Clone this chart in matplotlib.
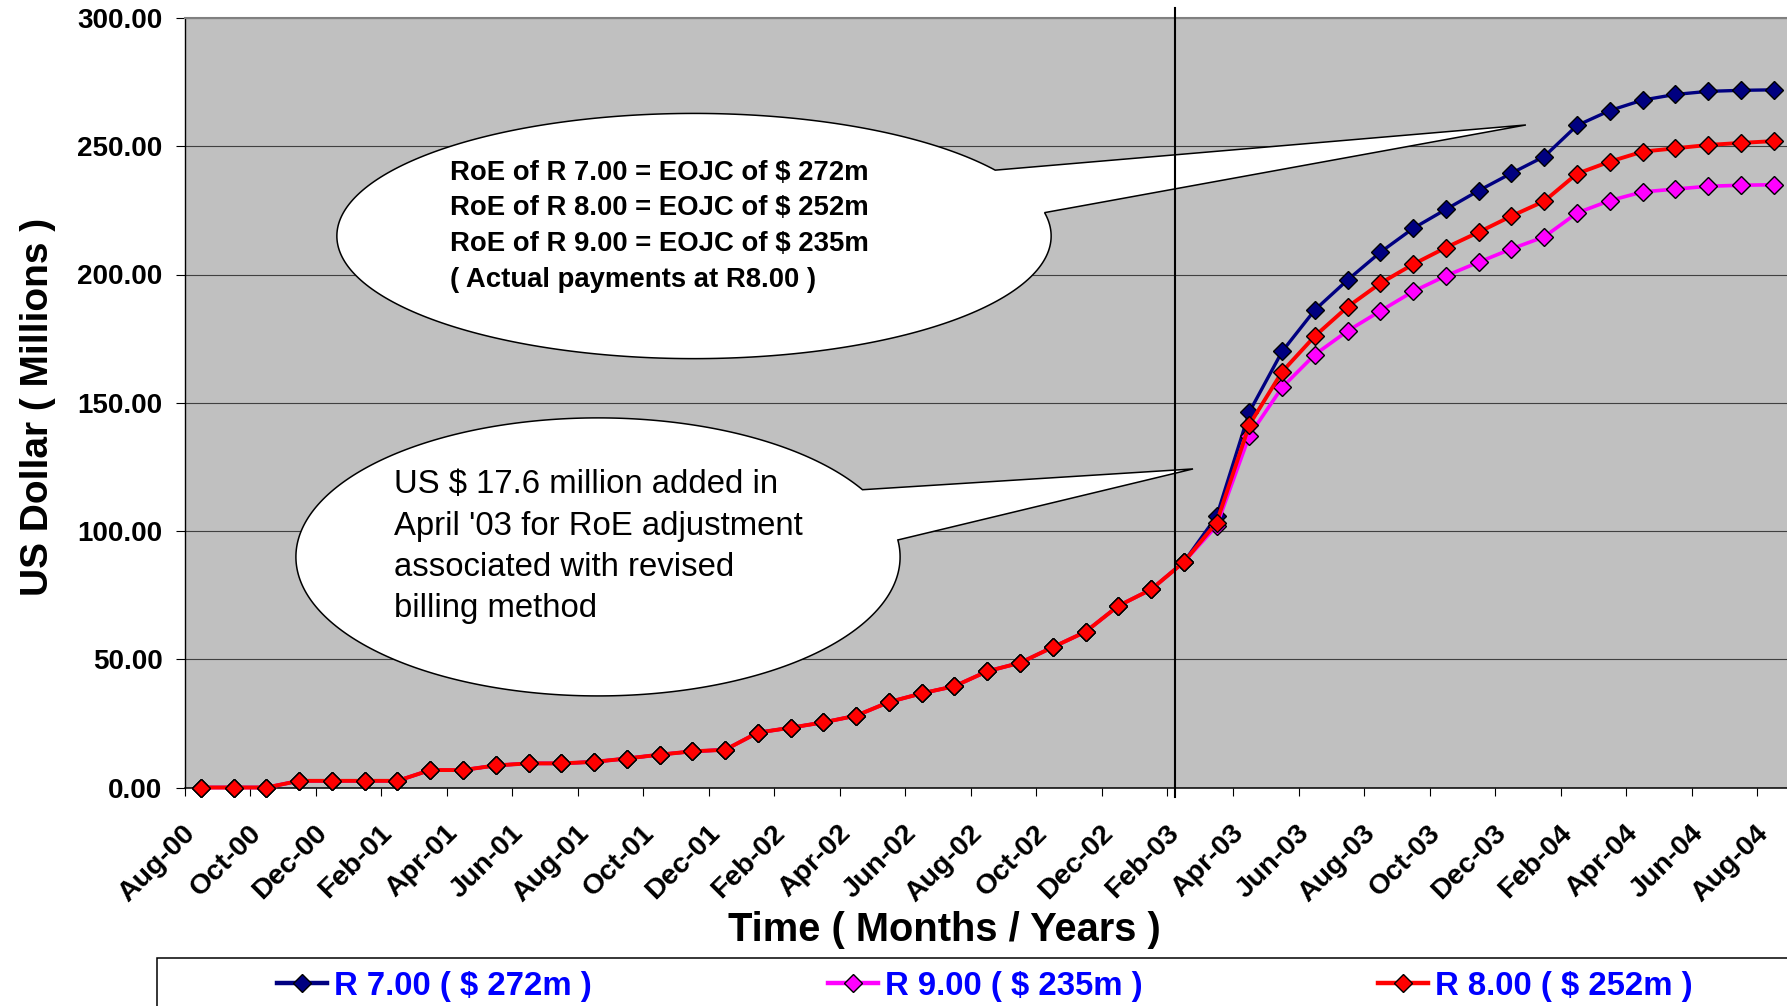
import numpy as np
import matplotlib
matplotlib.use("Agg")
import matplotlib.pyplot as plt
from matplotlib.patches import Polygon, Rectangle

plt.rcParams['font.family'] = ['Liberation Sans', 'DejaVu Sans']

# ---- data -------------------------------------------------------------
months = ["Aug-00", "Sep-00", "Oct-00", "Nov-00", "Dec-00",
          "Jan-01", "Feb-01", "Mar-01", "Apr-01", "May-01", "Jun-01",
          "Jul-01", "Aug-01", "Sep-01", "Oct-01", "Nov-01", "Dec-01",
          "Jan-02", "Feb-02", "Mar-02", "Apr-02", "May-02", "Jun-02",
          "Jul-02", "Aug-02", "Sep-02", "Oct-02", "Nov-02", "Dec-02",
          "Jan-03", "Feb-03", "Mar-03", "Apr-03", "May-03", "Jun-03",
          "Jul-03", "Aug-03", "Sep-03", "Oct-03", "Nov-03", "Dec-03",
          "Jan-04", "Feb-04", "Mar-04", "Apr-04", "May-04", "Jun-04",
          "Jul-04", "Aug-04"]

# cumulative payments up to Feb-03 (common to all three rates), US$ millions
actual_to_feb03 = [0.0, 0.0, 0.0, 2.6, 2.6, 2.6, 2.6, 6.8, 6.8, 8.6, 9.4,
                   9.4, 10.0, 11.3, 12.8, 14.1, 14.7, 21.4, 23.3, 25.4, 28.0,
                   33.3, 36.7, 39.5, 45.3, 48.6, 54.7, 60.7, 70.8, 77.2, 87.9]

# Mar-03 .. Aug-04 for each rate of exchange
r7_from_mar03 = [105.7, 146.4, 170.0, 186.2, 197.9, 208.7, 218.0, 225.4,
                 232.7, 239.5, 246.0, 258.1, 263.9, 268.0, 270.2, 271.4,
                 271.8, 272.0]
r9_from_mar03 = [102.0, 137.2, 156.0, 168.8, 178.0, 185.8, 193.4, 199.5,
                 204.8, 210.0, 214.7, 224.0, 228.8, 232.2, 233.3, 234.4,
                 234.8, 235.0]
r8_from_mar03 = [103.3, 141.4, 162.1, 176.0, 187.4, 196.6, 204.0, 210.5,
                 216.5, 222.8, 228.6, 239.3, 244.0, 247.9, 249.2, 250.5,
                 251.3, 252.0]

series_labels = ["R 7.00 ( $ 272m )", "R 9.00 ( $ 235m )", "R 8.00 ( $ 252m )"]
series_colors = ["#000080", "#FF00FF", "#FF0000"]

y_ticks = [0, 50, 100, 150, 200, 250, 300]

callout_top_text = ("RoE of R 7.00 = EOJC of $ 272m\n"
                    "RoE of R 8.00 = EOJC of $ 252m\n"
                    "RoE of R 9.00 = EOJC of $ 235m\n"
                    "( Actual payments at R8.00 )")
callout_low_text = ("US $ 17.6 million added in\n"
                    "April '03 for RoE adjustment\n"
                    "associated with revised\n"
                    "billing method")

# ---- figure -----------------------------------------------------------
W, H = 1787, 1006
fig = plt.figure(figsize=(W / 100, H / 100), dpi=100)
fig.patch.set_facecolor("white")

left, right, top, bottom = 184.5, 1790.0, 18.0, 787.5
ax = fig.add_axes([left / W, 1 - bottom / H, (right - left) / W, (bottom - top) / H])
ax.set_facecolor("#C0C0C0")
ax.set_xlim(-0.5, len(months) - 0.5)
ax.set_ylim(0, 300)

x = np.arange(len(months))
series = [actual_to_feb03 + r7_from_mar03,
          actual_to_feb03 + r9_from_mar03,
          actual_to_feb03 + r8_from_mar03]
lws = [2.4, 2.6, 2.8]
handles = []
for vals, col, lab, lw in zip(series, series_colors, series_labels, lws):
    ln, = ax.plot(x, vals, color=col, lw=lw, marker="D", markersize=8.9,
                  markerfacecolor=col, markeredgecolor="black",
                  markeredgewidth=1.0, clip_on=False, zorder=4, label=lab)
    handles.append(ln)

# grid and frame
ax.set_yticks(y_ticks)
ax.set_yticklabels([f"{v:.2f}" for v in y_ticks])
ax.yaxis.grid(True, color="#404040", lw=0.8)
ax.set_axisbelow(True)
ax.spines["left"].set_color("black")
ax.spines["left"].set_linewidth(1.0)
ax.spines["bottom"].set_color("black")
ax.spines["bottom"].set_linewidth(1.1)
ax.spines["top"].set_color("#808080")
ax.spines["top"].set_linewidth(1.5)
ax.spines["right"].set_visible(False)

ax.tick_params(axis="y", which="major", length=6.5, width=0.8, pad=9.4,
               labelsize=20, direction="out")
for lbl in ax.get_yticklabels():
    lbl.set_fontweight("bold")

# tick marks every two months between categories, labels on the category
ax.set_xticks(np.arange(-0.5, len(months) - 1, 2))
ax.set_xticklabels([])
ax.set_xticks(x[::2], minor=True)
ax.set_xticklabels(months[::2], minor=True)
ax.tick_params(axis="x", which="major", length=5.8, width=0.8, direction="out")
ax.tick_params(axis="x", which="minor", length=0, pad=23.5, labelsize=20.5)
for lbl in ax.get_xticklabels(minor=True):
    lbl.set_rotation(45)
    lbl.set_ha("right")
    lbl.set_va("top")
    lbl.set_fontweight("bold")

# vertical divider before the forecast period
divider_x = 29.73
ax.plot([divider_x, divider_x], [-3.7, 303.9], color="black", lw=1.5,
        clip_on=False, zorder=6)


def callout(cx, cy, a, b, ang_up, ang_lo, tip):
    t = np.radians(np.linspace(ang_up, ang_lo + 360, 300))
    pts = np.column_stack([cx + a * np.cos(t), cy + b * np.sin(t)])
    pts = np.vstack([pts, tip])
    ax.add_patch(Polygon(pts, closed=True, facecolor="white",
                         edgecolor="black", lw=1.1, zorder=5, clip_on=False))


callout(15.05, 215.0, 10.9, 47.8, 32.5, 11.0, (40.44, 258.3))
callout(12.12, 89.9, 9.22, 54.2, 28.9, 7.0, (30.28, 124.2))

# multi-line text anchored on the baseline of its last line
ax.text(7.60, 195.3, callout_top_text, ha="left", va="baseline",
        fontsize=19.8, fontweight="bold", linespacing=1.48, zorder=7)
ax.text(5.89, 66.4, callout_low_text, ha="left", va="baseline",
        fontsize=23.7, linespacing=1.43, zorder=7)

# axis titles
fig.text(944 / W, 1 - 941 / H, "Time ( Months / Years )", ha="center",
         va="baseline", fontsize=28.7, fontweight="bold")
fig.text(38 / W, 1 - 407 / H, "US Dollar ( Millions )", ha="center",
         va="center", rotation=90, fontsize=28, fontweight="bold")

# legend box running off the page edge
fig.add_artist(Rectangle((156.5 / W, -0.05), 1.2, 0.05 + (1 - 958 / H),
                         transform=fig.transFigure, facecolor="white",
                         edgecolor="black", lw=1.1, clip_on=False, zorder=1))
leg = fig.legend(handles=handles, labels=series_labels, loc="center left",
                 bbox_to_anchor=(277 / W, 1 - 986 / H), ncol=3, frameon=False,
                 handlelength=1.52, handletextpad=0.21, columnspacing=7.17,
                 borderpad=0, borderaxespad=0,
                 prop={"size": 23.7, "weight": "bold"}, labelcolor="#0000FF")
leg.set_zorder(2)
for lh in leg.get_lines():
    lh.set_linewidth(3.2)

fig.savefig("out.png", dpi=100)
